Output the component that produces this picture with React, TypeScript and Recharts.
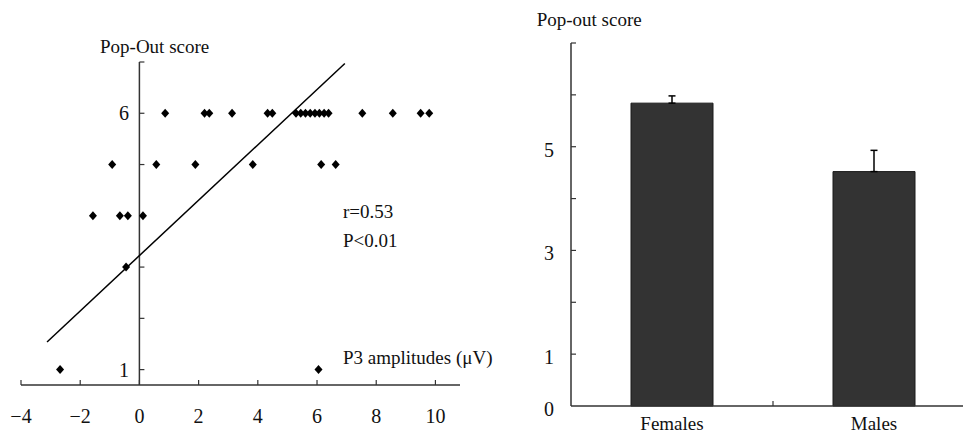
import React from 'react';
import {
  ScatterChart,
  Scatter,
  BarChart,
  Bar,
  ErrorBar,
  XAxis,
  YAxis,
  ReferenceLine,
  ReferenceDot,
} from 'recharts';

// 왼쪽: P3 amplitude vs pop-out score
const p3Amplitude = [
  0.87, 2.2, 2.36, 3.13, 4.33, 4.49, 5.29, 5.45, 5.61, 5.77, 5.93, 6.08, 6.24, 6.39, 7.53, 8.56, 9.5, 9.79,
  -0.92, 0.57, 1.89, 3.83, 6.14, 6.63,
  -1.57, -0.66, -0.39, 0.12,
  -0.45,
  -2.68, 6.05,
];
const popOutScore = [
  6, 6, 6, 6, 6, 6, 6, 6, 6, 6, 6, 6, 6, 6, 6, 6, 6, 6,
  5, 5, 5, 5, 5, 5,
  4, 4, 4, 4,
  3,
  1, 1,
];
const fitLine = [
  { x: -3.12, y: 1.54 },
  { x: 6.94, y: 6.97 },
];
const xTicksLeft = [-4, -2, 0, 2, 4, 6, 8, 10];
const yTicksLeft = [1, 2, 3, 4, 5, 6, 7];
const yLabelsLeft = [1, 6];

// 오른쪽: 성별 평균 ± SE
const groups = ['Females', 'Males'];
const groupMeans = [5.84, 4.52];
const groupErrors = [0.14, 0.41];
const yTicksRight = [0, 1, 2, 3, 4, 5, 6, 7];
const yLabelsRight = [0, 1, 3, 5];

const FONT = '"Liberation Serif", "Times New Roman", serif';
const INK = '#111';
const AXIS = '#333';

const scatterData = p3Amplitude.map((x, i) => ({ x, y: popOutScore[i] }));
const barData = groups.map((name, i) => ({
  name,
  mean: groupMeans[i],
  err: [0, groupErrors[i]],
}));

function Diamond({ cx, cy }: { cx?: number; cy?: number }) {
  if (cx == null || cy == null) return null;
  return (
    <polygon
      points={`${cx},${cy - 4.5} ${cx + 4},${cy} ${cx},${cy + 4.5} ${cx - 4},${cy}`}
      fill='#000'
    />
  );
}

function LeftYTick({ cx, cy, value }: { cx?: number; cy?: number; value: number }) {
  if (cx == null || cy == null) return null;
  return (
    <g>
      <line x1={cx} x2={cx + 5} y1={cy} y2={cy} stroke={AXIS} strokeWidth={1.2} />
      {yLabelsLeft.includes(value) && (
        <text x={cx - 10.5} y={cy + 7} textAnchor='end' fontFamily={FONT} fontSize={20} fill={INK}>
          {value}
        </text>
      )}
    </g>
  );
}

function LeftXTick(props: any) {
  const { x, y, payload } = props;
  const v = payload.value as number;
  return (
    <g>
      <line x1={x} x2={x} y1={y} y2={y - 5} stroke={AXIS} strokeWidth={1.2} />
      <text x={x} y={y + 37.5} textAnchor='middle' fontFamily={FONT} fontSize={20} fill={INK}>
        {v < 0 ? `\u2212${-v}` : v}
      </text>
    </g>
  );
}

function RightYTick(props: any) {
  const { x, y, payload } = props;
  const v = payload.value as number;
  return (
    <g>
      {v > 0 && <line x1={x} x2={x + 5} y1={y} y2={y} stroke={AXIS} strokeWidth={1.2} />}
      {yLabelsRight.includes(v) && (
        <text x={x - 17} y={y + 10} textAnchor='end' fontFamily={FONT} fontSize={20} fill={INK}>
          {v}
        </text>
      )}
    </g>
  );
}

const RIGHT_BAND = 404 / groups.length;

function RightXTick(props: any) {
  const { x, y, payload, index } = props;
  return (
    <g>
      {index === 0 && (
        <line x1={x + RIGHT_BAND / 2} x2={x + RIGHT_BAND / 2} y1={y} y2={y - 5} stroke={AXIS} strokeWidth={1.2} />
      )}
      <text x={x} y={y + 23.5} textAnchor='middle' fontFamily={FONT} fontSize={19} fill={INK}>
        {payload.value}
      </text>
    </g>
  );
}

export default function App() {
  return (
    <div
      style={{
        position: 'absolute',
        left: 0,
        top: 0,
        width: 963,
        height: 434,
        overflow: 'hidden',
        background: '#fff',
      }}
    >
      <div style={{ position: 'absolute', left: 0, top: 0 }}>
        <ScatterChart width={480} height={434} margin={{ top: 62, right: 20, bottom: 9, left: 21 }}>
          <XAxis
            type='number'
            dataKey='x'
            domain={[-4, 10.83]}
            allowDataOverflow
            ticks={xTicksLeft}
            interval={0}
            height={40}
            tickSize={0}
            tickMargin={0}
            tickLine={false}
            axisLine={{ stroke: AXIS, strokeWidth: 1.5 }}
            tick={LeftXTick}
          />
          <YAxis type='number' dataKey='y' domain={[0.7, 7]} allowDataOverflow hide />
          <ReferenceLine x={0} stroke={AXIS} strokeWidth={1.5} />
          {yTicksLeft.map((t) => (
            <ReferenceDot
              key={t}
              x={0}
              y={t}
              r={0}
              ifOverflow='visible'
              shape={(p: any) => <LeftYTick cx={p.cx} cy={p.cy} value={t} />}
            />
          ))}
          <ReferenceLine segment={fitLine} stroke='#000' strokeWidth={1.5} ifOverflow='visible' />
          <Scatter data={scatterData} shape={Diamond} isAnimationActive={false} />
        </ScatterChart>
      </div>

      <div style={{ position: 'absolute', left: 480, top: 0 }}>
        <BarChart
          width={495}
          height={434}
          data={barData}
          margin={{ top: 43, right: 0, bottom: 0, left: 90 }}
        >
          <XAxis
            dataKey='name'
            height={28}
            interval={0}
            tickSize={0}
            tickMargin={0}
            tickLine={false}
            axisLine={{ stroke: AXIS, strokeWidth: 1.5 }}
            tick={RightXTick}
          />
          <YAxis
            type='number'
            domain={[0, 7]}
            ticks={yTicksRight}
            interval={0}
            width={1}
            tickSize={0}
            tickMargin={0}
            tickLine={false}
            axisLine={{ stroke: AXIS, strokeWidth: 1.5 }}
            tick={RightYTick}
          />
          <Bar dataKey='mean' fill='#333333' stroke='#1a1a1a' barSize={82} isAnimationActive={false}>
            <ErrorBar dataKey='err' width={3.5} stroke='#000' strokeWidth={1.5} />
          </Bar>
        </BarChart>
      </div>

      <svg
        width={963}
        height={434}
        style={{ position: 'absolute', left: 0, top: 0, pointerEvents: 'none' }}
      >
        <g fontFamily={FONT} fontSize={19} fill={INK}>
          <text x={100} y={53}>Pop-Out score</text>
          <text x={343} y={218}>r=0.53</text>
          <text x={343} y={246.7}>P&lt;0.01</text>
          <text x={343} y={364}>P3 amplitudes (μV)</text>
          <text x={536.7} y={26}>Pop-out score</text>
        </g>
      </svg>
    </div>
  );
}
